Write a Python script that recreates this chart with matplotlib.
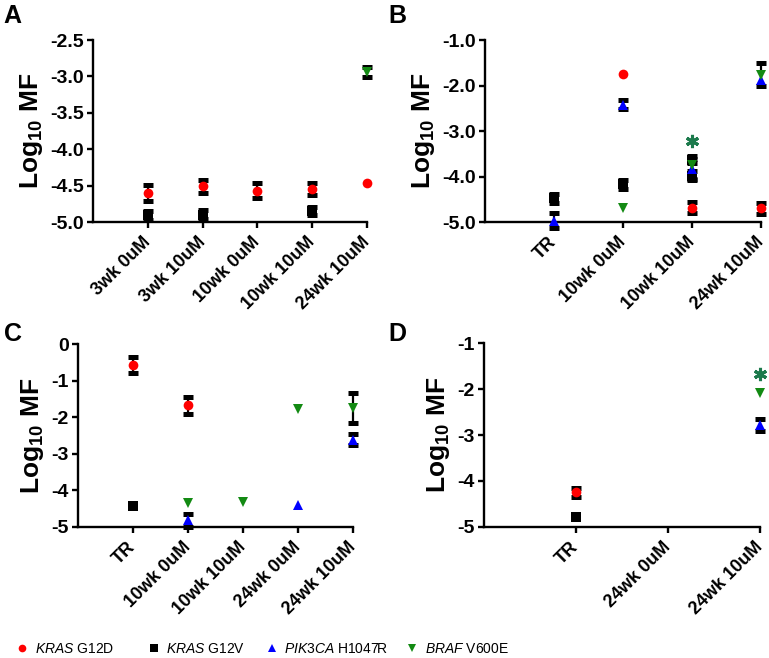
import matplotlib
matplotlib.use("Agg")
import matplotlib.pyplot as plt
from matplotlib.lines import Line2D

plt.rcParams['font.family'] = ['Liberation Sans', 'DejaVu Sans']
plt.rcParams['mathtext.fontset'] = 'custom'
plt.rcParams['mathtext.rm'] = 'Liberation Sans'
plt.rcParams['mathtext.it'] = 'Liberation Sans:italic'
plt.rcParams['mathtext.bf'] = 'Liberation Sans:bold'

# ---- data (log10 mutant fraction, mean and error) ----
A_cats = ["3wk 0uM", "3wk 10uM", "10wk 0uM", "10wk 10uM", "24wk 10uM"]
A_g12d_x = [0, 1, 2, 3, 4]
A_g12d_y = [-4.60, -4.51, -4.57, -4.55, -4.47]
A_g12d_e = [0.11, 0.09, 0.10, 0.08, 0]
A_g12v_x = [0, 1, 3]
A_g12v_y = [-4.91, -4.90, -4.85]
A_g12v_e = [0.06, 0.06, 0.05]
A_braf_x = [4]
A_braf_y = [-2.94]
A_braf_e = [0.07]

B_cats = ["TR", "10wk 0uM", "10wk 10uM", "24wk 10uM"]
B_g12d_x = [1, 2, 3]
B_g12d_y = [-1.75, -4.69, -4.70]
B_g12d_e = [0, 0.12, 0.12]
B_g12v_x = [0, 1, 2, 2]
B_g12v_y = [-4.48, -4.17, -3.63, -3.98]
B_g12v_e = [0.10, 0.10, 0.08, 0.10]
B_pik_x = [0, 1, 2, 3]
B_pik_y = [-4.97, -2.42, -3.84, -1.87]
B_pik_e = [0.17, 0.10, 0.22, 0]
B_braf_x = [1, 2, 3]
B_braf_y = [-4.70, -3.74, -1.76]
B_braf_e = [0, 0, 0.25]
B_star_x = [2]
B_star_y = [-3.21]

C_cats = ["TR", "10wk 0uM", "10wk 10uM", "24wk 0uM", "24wk 10uM"]
C_g12d_x = [0, 1]
C_g12d_y = [-0.57, -1.67]
C_g12d_e = [0.22, 0.23]
C_g12v_x = [0]
C_g12v_y = [-4.43]
C_g12v_e = [0]
C_pik_x = [1, 3, 4]
C_pik_y = [-4.82, -4.41, -2.62]
C_pik_e = [0.17, 0, 0.15]
C_braf_x = [1, 2, 3, 4]
C_braf_y = [-4.35, -4.32, -1.77, -1.75]
C_braf_e = [0, 0, 0, 0.42]

D_cats = ["TR", "24wk 0uM", "24wk 10uM"]
D_g12d_x = [0]
D_g12d_y = [-4.25]
D_g12d_e = [0.09]
D_g12v_x = [0]
D_g12v_y = [-4.78]
D_g12v_e = [0]
D_pik_x = [2]
D_pik_y = [-2.78]
D_pik_e = [0.13]
D_braf_x = [2]
D_braf_y = [-2.09]
D_braf_e = [0]
D_star_x = [2]
D_star_y = [-1.67]

RED = '#ff0000'
BLACK = '#000000'
BLUE = '#0000ff'
GREEN = '#138a13'
STAR = '#1c7a4c'

styles = {
    'g12v': dict(marker='s', color=BLACK, ms=6.5, z=3),
    'g12d': dict(marker='o', color=RED, ms=7, z=5),
    'pik': dict(marker='^', color=BLUE, ms=6.5, z=4),
    'braf': dict(marker='v', color=GREEN, ms=6.5, z=6),
}


def draw(ax, key, xs, ys, es):
    st = styles[key]
    ex = [x for x, e in zip(xs, es) if e > 0]
    ey = [y for y, e in zip(ys, es) if e > 0]
    ee = [e for e in es if e > 0]
    if ee:
        ax.errorbar(ex, ey, yerr=ee, fmt='none', ecolor=BLACK, elinewidth=1.6,
                    capsize=3.6, capthick=3.6, zorder=2, clip_on=False)
    ax.plot(xs, ys, linestyle='none', marker=st['marker'], color=st['color'],
            markersize=st['ms'], markeredgewidth=0, zorder=st['z'], clip_on=False)


def style_axes(ax, cats, ylim, yticks, fmt):
    ax.set_xlim(-1, len(cats) - 1)
    ax.set_ylim(*ylim)
    ax.set_xticks(range(len(cats)))
    ax.set_xticklabels(cats, rotation=45, ha='right', va='center',
                       rotation_mode='anchor', fontsize=13, fontweight='bold')
    ax.set_yticks(yticks)
    ax.set_yticklabels([fmt % v for v in yticks], fontsize=14, fontweight='bold')
    for s in ['top', 'right']:
        ax.spines[s].set_visible(False)
    for s in ['left', 'bottom']:
        ax.spines[s].set_linewidth(1.7)
    ax.tick_params(direction='out', length=4.5, width=1.7, pad=2)
    ax.tick_params(axis='x', pad=8)
    ax.set_ylabel(r'Log$_{\bf 10}$ MF', fontsize=19, fontweight='bold', labelpad=4)


fig = plt.figure(figsize=(7.69, 6.58), dpi=100)

axA = fig.add_axes([0.121, 0.6626, 0.3563, 0.2766])
draw(axA, 'g12v', A_g12v_x, A_g12v_y, A_g12v_e)
draw(axA, 'g12d', A_g12d_x, A_g12d_y, A_g12d_e)
draw(axA, 'braf', A_braf_x, A_braf_y, A_braf_e)
style_axes(axA, A_cats, (-5, -2.5), [-5.0, -4.5, -4.0, -3.5, -3.0, -2.5], '%.1f')

axB = fig.add_axes([0.6307, 0.6626, 0.3589, 0.2766])
draw(axB, 'g12v', B_g12v_x, B_g12v_y, B_g12v_e)
draw(axB, 'g12d', B_g12d_x, B_g12d_y, B_g12d_e)
draw(axB, 'pik', B_pik_x, B_pik_y, B_pik_e)
draw(axB, 'braf', B_braf_x, B_braf_y, B_braf_e)
axB.plot(B_star_x, B_star_y, linestyle='none', marker=(6, 2, 0), color=STAR,
         markersize=9.5, markeredgewidth=2.2, zorder=7)
style_axes(axB, B_cats, (-5, -1), [-5.0, -4.0, -3.0, -2.0, -1.0], '%.1f')

axC = fig.add_axes([0.1014, 0.1991, 0.3576, 0.2781])
draw(axC, 'g12v', C_g12v_x, C_g12v_y, C_g12v_e)
draw(axC, 'g12d', C_g12d_x, C_g12d_y, C_g12d_e)
draw(axC, 'pik', C_pik_x, C_pik_y, C_pik_e)
draw(axC, 'braf', C_braf_x, C_braf_y, C_braf_e)
style_axes(axC, C_cats, (-5, 0), [-5, -4, -3, -2, -1, 0], '%d')

axD = fig.add_axes([0.6294, 0.1991, 0.3589, 0.2796])
draw(axD, 'g12v', D_g12v_x, D_g12v_y, D_g12v_e)
draw(axD, 'g12d', D_g12d_x, D_g12d_y, D_g12d_e)
draw(axD, 'pik', D_pik_x, D_pik_y, D_pik_e)
draw(axD, 'braf', D_braf_x, D_braf_y, D_braf_e)
axD.plot(D_star_x, D_star_y, linestyle='none', marker=(6, 2, 0), color=STAR,
         markersize=9.5, markeredgewidth=2.2, zorder=7, clip_on=False)
style_axes(axD, D_cats, (-5, -1), [-5, -4, -3, -2, -1], '%d')

# panel letters
fig.text(0.005, 0.994, 'A', fontsize=18, fontweight='bold', va='top')
fig.text(0.505, 0.994, 'B', fontsize=18, fontweight='bold', va='top')
fig.text(0.005, 0.510, 'C', fontsize=18, fontweight='bold', va='top')
fig.text(0.505, 0.510, 'D', fontsize=18, fontweight='bold', va='top')

# legend, one entry per slot
leg_labels = [r'$\it{KRAS}$ G12D', r'$\it{KRAS}$ G12V',
              r'$\it{PIK3CA}$ H1047R', r'$\it{BRAF}$ V600E']
leg_keys = ['g12d', 'g12v', 'pik', 'braf']
leg_x = [0.022, 0.193, 0.346, 0.529]
for lab, key, lx in zip(leg_labels, leg_keys, leg_x):
    st = styles[key]
    h = Line2D([], [], linestyle='none', marker=st['marker'], color=st['color'],
               markersize=5.5, markeredgewidth=0)
    fig.legend([h], [lab], loc='center left', bbox_to_anchor=(lx, 0.014),
               frameon=False, fontsize=10, handlelength=0.8, handletextpad=0.5,
               borderaxespad=0, borderpad=0)

fig.savefig('out.png', dpi=100)
